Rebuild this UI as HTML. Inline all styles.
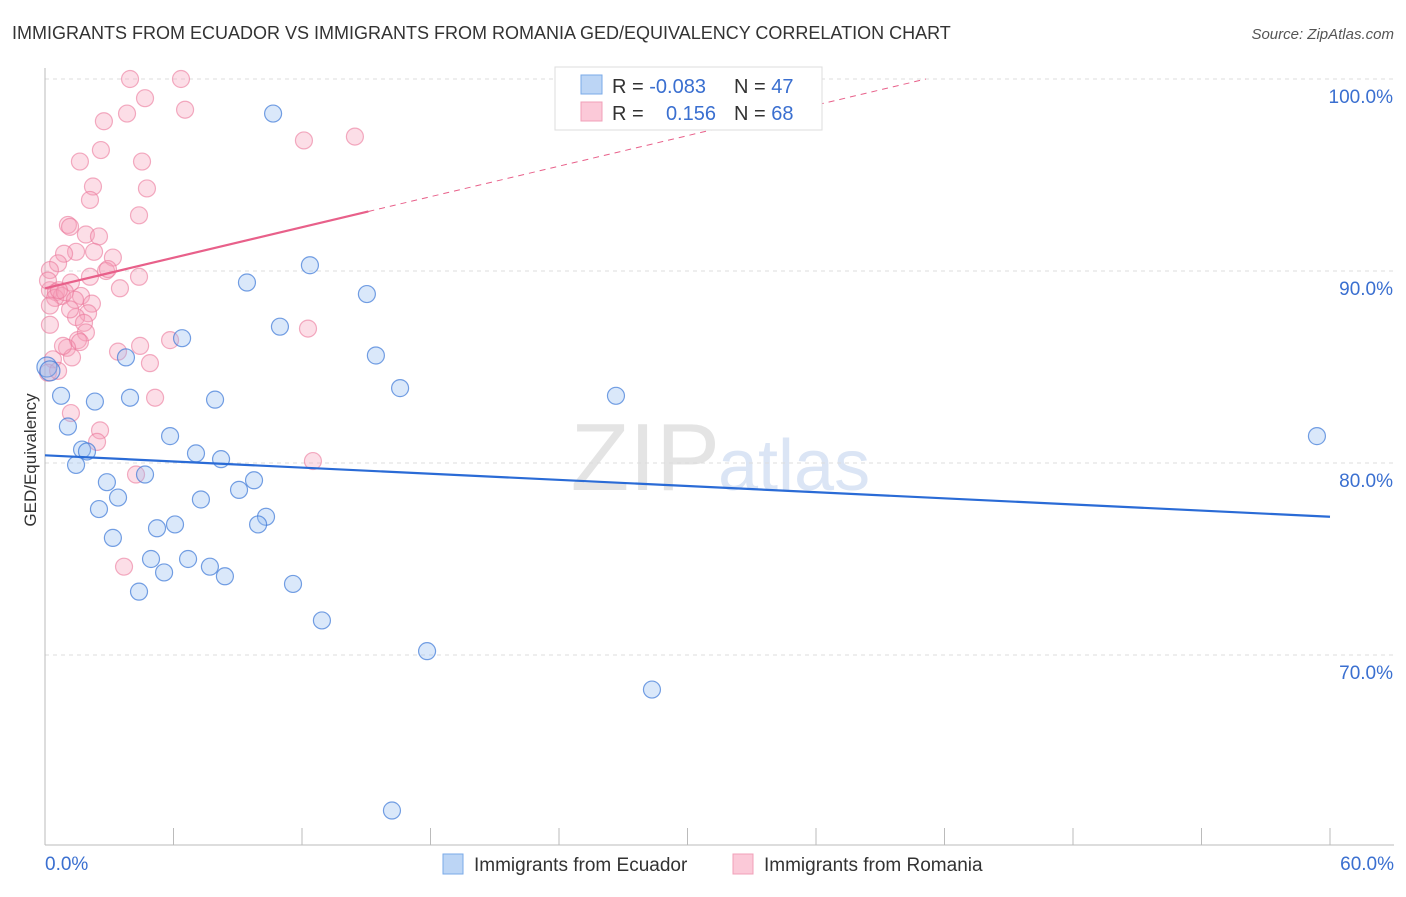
<!DOCTYPE html>
<html><head><meta charset="utf-8"><style>
body{margin:0;background:#fff;font-family:"Liberation Sans",sans-serif;}
svg text{font-family:"Liberation Sans",sans-serif;}
</style></head><body>
<svg id="chart" width="1406" height="892" viewBox="0 0 1406 892">
<text x="12" y="39" font-size="18" fill="#333">IMMIGRANTS FROM ECUADOR VS IMMIGRANTS FROM ROMANIA GED/EQUIVALENCY CORRELATION CHART</text>
<text x="1394" y="39" font-size="15" fill="#555" font-style="italic" text-anchor="end">Source: ZipAtlas.com</text>
<text x="36" y="460" font-size="17" fill="#333" transform="rotate(-90 36 460)" text-anchor="middle">GED/Equivalency</text>
<text x="720" y="490" font-size="96" fill="#e4e4e4" text-anchor="end" font-family="Liberation Serif">ZIP</text>
<text x="718" y="490" font-size="72" fill="#dbe5f5">atlas</text>
<g id="grid"></g><g id="axes"></g><g id="marks"></g>
<g>
<rect x="555" y="67" width="267" height="63" fill="#fff" stroke="#ddd"/>
<rect x="581" y="75" width="21" height="19" fill="#bcd5f5" stroke="#7aaae8"/>
<rect x="581" y="102" width="21" height="19" fill="#fbc9d8" stroke="#f0a0b8"/>
<text x="612" y="93" font-size="20" fill="#333">R = <tspan fill="#3a6fd0">-0.083</tspan></text>
<text x="734" y="93" font-size="20" fill="#333">N = <tspan fill="#3a6fd0">47</tspan></text>
<text x="612" y="120" font-size="20" fill="#333">R = </text>
<text x="716" y="120" font-size="20" fill="#3a6fd0" text-anchor="end">0.156</text>
<text x="734" y="120" font-size="20" fill="#333">N = <tspan fill="#3a6fd0">68</tspan></text>
</g>
<g>
<rect x="443" y="854" width="20" height="20" fill="#bcd5f5" stroke="#7aaae8"/>
<text x="474" y="871" font-size="19" fill="#333">Immigrants from Ecuador</text>
<rect x="733" y="854" width="20" height="20" fill="#fbc9d8" stroke="#f0a0b8"/>
<text x="764" y="871" font-size="19" fill="#333">Immigrants from Romania</text>
</g>
</svg>
<script>
const blueX=[10.65,12.37,9.43,15.03,10.97,6.40,15.45,3.78,16.58,26.66,0.75,2.33,3.97,7.94,59.39,1.07,5.84,1.73,1.96,7.05,8.22,1.45,4.67,2.89,9.06,9.76,3.41,7.28,2.52,10.32,9.95,5.23,6.07,3.17,4.95,6.68,7.70,5.56,8.40,11.58,4.39,12.93,17.84,28.34,16.20,0.09,0.23];
const blueY=[98.2,90.3,89.4,88.8,87.1,86.5,85.6,85.5,83.9,83.5,83.5,83.2,83.4,83.3,81.4,81.9,81.4,80.7,80.6,80.5,80.2,79.9,79.4,79.0,78.6,79.1,78.2,78.1,77.6,77.2,76.8,76.6,76.8,76.1,75.0,75.0,74.6,74.3,74.1,73.7,73.3,71.8,70.2,68.2,61.9,85.0,84.8];
const pinkX=[3.97,6.35,4.67,3.83,6.54,2.75,12.09,14.47,2.61,1.63,4.53,2.24,4.76,2.10,4.39,1.07,1.17,1.91,2.52,1.45,0.89,2.29,3.17,0.61,0.23,2.85,4.39,2.10,2.94,1.21,3.50,0.23,0.51,0.79,1.68,0.47,2.19,0.23,2.01,1.45,1.82,0.23,1.91,1.54,1.63,3.41,4.44,5.84,12.28,1.03,1.26,4.90,0.37,5.14,1.21,2.57,2.43,4.25,12.51,3.69,0.14,0.93,0.14,1.40,0.84,0.61,1.17,0.65];
const pinkY=[100,100,99.0,98.2,98.4,97.8,96.8,97.0,96.3,95.7,95.7,94.4,94.3,93.7,92.9,92.4,92.3,91.9,91.8,91.0,90.9,91.0,90.7,90.4,90.05,90.0,89.7,89.7,90.1,89.4,89.1,89.0,88.9,88.7,88.7,88.6,88.3,88.2,87.8,87.6,87.3,87.2,86.8,86.4,86.3,85.8,86.1,86.4,87.0,86.0,85.5,85.2,85.4,83.4,82.6,81.7,81.1,79.4,80.1,74.6,84.7,88.9,89.5,88.5,86.1,84.8,88.0,89.0];
const yTicks=[100,90,80,70];
const yTickLabels=["100.0%","90.0%","80.0%","70.0%"];
const xTicks=[0,6,12,18,24,30,36,42,48,54,60];
const blueTrend=[80.4,77.2];
const pinkTrend=[89.1,0.265,15.1];
const NS="http://www.w3.org/2000/svg";
const sx=v=>45+v*1285/60;
const sy=v=>79+(100-v)*19.2;
function mk(tag,attrs,parent){const e=document.createElementNS(NS,tag);for(const k in attrs)e.setAttribute(k,attrs[k]);parent.appendChild(e);return e;}
const grid=document.getElementById('grid'),axes=document.getElementById('axes'),marks=document.getElementById('marks');
yTicks.forEach((t,i)=>{
  const l=mk('line',{x1:45,x2:1394,y1:sy(t),y2:sy(t),stroke:'#ddd','stroke-dasharray':'4 4'},grid);
  
  
  const tx=mk('text',{x:1393,y:sy(t)+24,'font-size':19,fill:'#3a6fd0','text-anchor':'end'},axes);
  tx.textContent=yTickLabels[i];
  
  
});
const ax=mk('line',{x1:45,x2:45,y1:68,y2:845,stroke:'#bbb'},axes);


const bx=mk('line',{x1:45,x2:1394,y1:845,y2:845,stroke:'#bbb'},axes);


xTicks.forEach(t=>{
  const l=mk('line',{x1:sx(t),x2:sx(t),y1:828,y2:845,stroke:'#bbb'},axes);
  
  
});
[[0,'start',45],[60,'end',1394]].forEach(([v,a,x])=>{
  const tx=mk('text',{x:x,y:870,'font-size':19,fill:'#3a6fd0','text-anchor':a},axes);
  tx.textContent=v.toFixed(1)+'%';
  
  
});
pinkX.forEach((x,i)=>{
  const c=mk('circle',{cx:sx(x),cy:sy(pinkY[i]),r:8.5,fill:'rgba(246,160,185,0.35)',stroke:'rgba(235,120,155,0.6)','stroke-width':1.2},marks);
  
  
});
blueX.forEach((x,i)=>{
  const c=mk('circle',{cx:sx(x),cy:sy(blueY[i]),r:i>=45?10:8.5,fill:'rgba(150,190,240,0.35)',stroke:'rgba(60,120,215,0.7)','stroke-width':1.2},marks);
  
  
});
const bl=mk('line',{x1:sx(0),y1:sy(blueTrend[0]),x2:sx(60),y2:sy(blueTrend[1]),stroke:'#2a6bd6','stroke-width':2.2},marks);


const pEnd=(100-pinkTrend[0])/pinkTrend[1];
const pl=mk('line',{x1:sx(0),y1:sy(pinkTrend[0]),x2:sx(pinkTrend[2]),y2:sy(pinkTrend[0]+pinkTrend[1]*pinkTrend[2]),stroke:'#e8608a','stroke-width':2.2},marks);


const pd=mk('line',{x1:sx(pinkTrend[2]),y1:sy(pinkTrend[0]+pinkTrend[1]*pinkTrend[2]),x2:sx(pEnd),y2:sy(100),stroke:'#e8608a','stroke-width':1,'stroke-dasharray':'6 5'},marks);


</script>
</body></html>
